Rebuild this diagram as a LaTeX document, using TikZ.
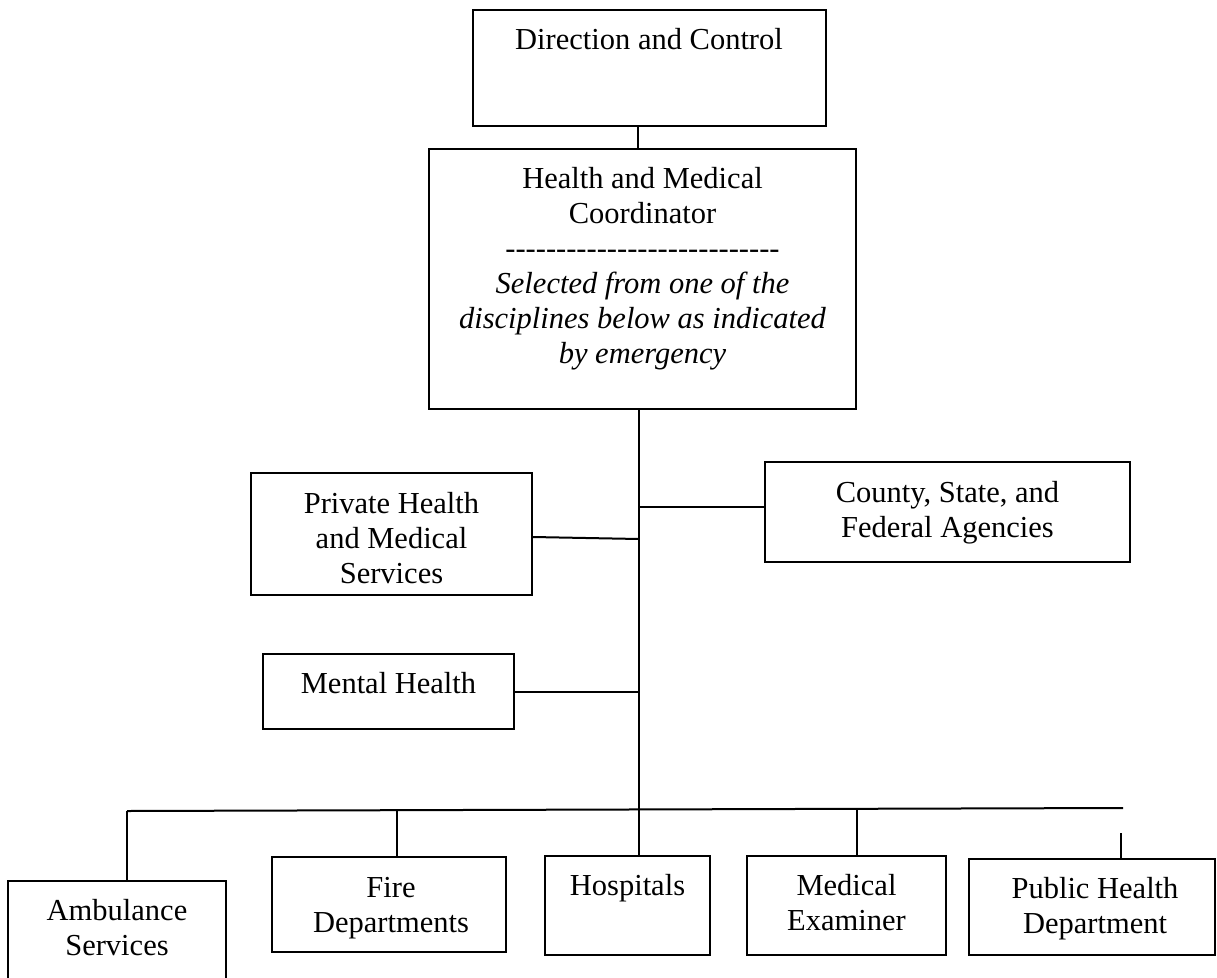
\documentclass[tikz,border=0pt]{standalone}
\usepackage{fontspec}
\setmainfont{Liberation Serif}
% same face without TeX ligatures, so a row of hyphens stays hyphens
\newfontfamily\plainserif{Liberation Serif}
\begin{document}
\begin{tikzpicture}[x=1pt,y=-1pt,
  box/.style={draw,line width=2pt,inner sep=0pt},
  txt/.style={inner sep=0pt,align=center,anchor=base,
    font=\fontsize{30.5}{35}\selectfont},
  wire/.style={line width=2pt}]
\useasboundingbox (0,0) rectangle (1217,977);
\clip (0,0) rectangle (1217,977);

% boxes
\node[box,minimum width=353pt,minimum height=116pt] (dc)   at (649.5,68)  {};
\node[box,minimum width=427pt,minimum height=260pt] (hmc)  at (642.5,279) {};
\node[box,minimum width=281pt,minimum height=122pt] (priv) at (391.5,534) {};
\node[box,minimum width=365pt,minimum height=100pt] (cnty) at (947.5,512) {};
\node[box,minimum width=251pt,minimum height=75pt]  (ment) at (388.5,691.5) {};
\node[box,minimum width=218pt,minimum height=120pt] (amb)  at (117,941)   {};
\node[box,minimum width=234pt,minimum height=95pt]  (fire) at (389,904.5) {};
\node[box,minimum width=165pt,minimum height=99pt]  (hosp) at (627.5,905.5) {};
\node[box,minimum width=199pt,minimum height=99pt]  (med)  at (846.5,905.5) {};
\node[box,minimum width=246pt,minimum height=96pt]  (pub)  at (1092,907)   {};

% labels (anchored at the baseline of their last line)
\node[txt] (dct) at (649,49) {Direction and Control};
\node[txt] (hmct) at (642.5,363) {Health and Medical\\Coordinator\\{\plainserif ---------------------------}\\
  \itshape Selected from one of the\\\itshape disciplines below as indicated\\\itshape by emergency};
\node[txt] (privt) at (391.5,583) {Private Health\\and Medical\\Services};
\node[txt] (cntyt) at (947.5,537) {County, State, and\\Federal Agencies};
\node[txt] (mentt) at (388.5,693) {Mental Health};
\node[txt] (ambt)  at (117,955)   {Ambulance\\Services};
\node[txt] (firet) at (391,932)   {Fire\\Departments};
\node[txt] (hospt) at (627.5,895) {Hospitals};
\node[txt] (medt)  at (846.5,930) {Medical\\Examiner};
\node[txt] (pubt)  at (1095,933)  {Public Health\\Department};

% junction points
\coordinate (top) at (638,0);
\coordinate (sp)  at (639,0);
\coordinate (jc)  at (639,507);
\coordinate (jp)  at (639,539);
\coordinate (jm)  at (639,692);
\coordinate (bl)  at (127,811);
\coordinate (br)  at (1123,808);
\coordinate (bf)  at (397,810);
\coordinate (bm)  at (857,809);
\coordinate (pt)  at (1121,833);

% connectors
\draw[wire] (top |- dc.south) -- (top |- hmc.north);
\draw[wire] (sp |- hmc.south) -- (sp |- hosp.north);
\draw[wire] (jc) -- (jc -| cnty.west);
\draw[wire] ([yshift=-3pt]priv.east) -- (jp);
\draw[wire] (ment.east |- jm) -- (jm);
\draw[wire] (bl) -- (br);
\draw[wire] (bl) -- (bl |- amb.north);
\draw[wire] (bf) -- (bf |- fire.north);
\draw[wire] (bm) -- (bm |- med.north);
\draw[wire] (pt) -- (pt |- pub.north);
\end{tikzpicture}
\end{document}
